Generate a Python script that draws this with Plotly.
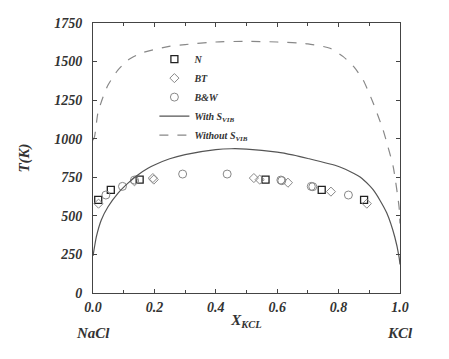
import plotly.graph_objects as go

# Model curves
x_with = [0.0, 0.005, 0.011, 0.027, 0.049, 0.081, 0.114, 0.146, 0.179, 0.2, 0.25, 0.3, 0.4, 0.45, 0.5, 0.6, 0.65, 0.7, 0.8, 0.85, 0.87, 0.9, 0.913, 0.935, 0.957, 0.983, 0.997, 1.0]
t_with = [240, 300, 365, 473, 559, 646, 712, 765, 808, 830, 870, 897, 929, 935, 933, 913, 895, 872, 820, 775, 752, 698, 668, 600, 518, 363, 233, 185]
x_without = [0.0, 0.005, 0.016, 0.033, 0.049, 0.081, 0.114, 0.157, 0.244, 0.3, 0.4, 0.5, 0.6, 0.7, 0.772, 0.815, 0.85, 0.88, 0.913, 0.945, 0.961, 0.978, 0.997, 1.0]
t_without = [990, 1013, 1167, 1272, 1348, 1445, 1510, 1555, 1597, 1610, 1627, 1631, 1627, 1615, 1586, 1532, 1465, 1380, 1230, 1056, 946, 817, 557, 450]

# Experimental data
x_N = [0.017, 0.058, 0.152, 0.562, 0.745, 0.883]
t_N = [603, 668, 735, 735, 668, 603]
x_BT = [0.018, 0.135, 0.195, 0.198, 0.524, 0.543, 0.635, 0.775, 0.892]
t_BT = [579, 724, 745, 735, 745, 735, 715, 657, 579]
x_BW = [0.042, 0.096, 0.135, 0.292, 0.437, 0.612, 0.615, 0.711, 0.716, 0.832]
t_BW = [635, 691, 732, 771, 771, 732, 728, 691, 689, 635]

y_ticks = [0, 250, 500, 750, 1000, 1250, 1500, 1750]
x_ticks = [0.0, 0.2, 0.4, 0.6, 0.8, 1.0]

font_family = "Liberation Serif"

fig = go.Figure()
fig.add_trace(go.Scatter(x=x_N, y=t_N, mode="markers", name="<b><i>N</i></b>",
                         marker=dict(symbol="square-open", size=7, color="#222", line=dict(width=1.3))))
fig.add_trace(go.Scatter(x=x_BT, y=t_BT, mode="markers", name="<b><i>BT</i></b>",
                         marker=dict(symbol="diamond-open", size=7, color="#888", line=dict(width=1))))
fig.add_trace(go.Scatter(x=x_BW, y=t_BW, mode="markers", name="<b><i>B&amp;W</i></b>",
                         marker=dict(symbol="circle-open", size=8, color="#888", line=dict(width=1))))
fig.add_trace(go.Scatter(x=x_with, y=t_with, mode="lines", name="<b><i>With S<sub>VIB</sub></i></b>",
                         line=dict(color="#555", width=1.2, shape="spline", smoothing=0.6)))
fig.add_trace(go.Scatter(x=x_without, y=t_without, mode="lines", name="<b><i>Without S<sub>VIB</sub></i></b>",
                         line=dict(color="#888", width=1.2, dash="dash", shape="spline", smoothing=0.6)))

fig.update_layout(
    width=449, height=359,
    margin=dict(l=93, r=49, t=23, b=66),
    paper_bgcolor="white", plot_bgcolor="white",
    font=dict(family=font_family, color="#333"),
    showlegend=True,
    legend=dict(x=0.2, y=0.92, xanchor="left", yanchor="top",
                bgcolor="rgba(0,0,0,0)", font=dict(size=10, family=font_family, color="#333"),
                tracegroupgap=0, itemwidth=30),
    xaxis=dict(range=[0, 1], tickvals=x_ticks,
               ticktext=["<b><i>%.1f</i></b>" % v for v in x_ticks],
               showgrid=False, zeroline=False, showline=True, linecolor="#444", linewidth=1,
               mirror="ticks", ticks="inside", ticklen=4, tickcolor="#444",
               minor=dict(ticks="inside", ticklen=3, dtick=0.1, tickcolor="#444"),
               tickfont=dict(size=14, family=font_family, color="#333"),
               ticklabelstandoff=1,
               title=dict(text="<b><i>X<sub>KCL</sub></i></b>", font=dict(size=15, family=font_family, color="#333"), standoff=0)),
    yaxis=dict(range=[0, 1750], tickvals=y_ticks,
               ticktext=["<b><i>%d</i></b>" % v for v in y_ticks],
               showgrid=False, zeroline=False, showline=True, linecolor="#444", linewidth=1,
               mirror="ticks", ticks="inside", ticklen=4, tickcolor="#444",
               tickfont=dict(size=14, family=font_family, color="#333"),
               ticklabelstandoff=7,
               title=dict(text="<b><i>T(K)</i></b>", font=dict(size=15, family=font_family, color="#333"), standoff=20)),
)

fig.add_annotation(x=0, y=0, xref="paper", yref="paper", yshift=-40, text="<b><i>NaCl</i></b>",
                   showarrow=False, xanchor="center", yanchor="middle",
                   font=dict(size=15, family=font_family, color="#333"))
fig.add_annotation(x=1, y=0, xref="paper", yref="paper", yshift=-40, text="<b><i>KCl</i></b>",
                   showarrow=False, xanchor="center", yanchor="middle",
                   font=dict(size=15, family=font_family, color="#333"))

fig.write_html("out.html", config={"displayModeBar": False},
               post_script="document.body.style.margin='0';")
